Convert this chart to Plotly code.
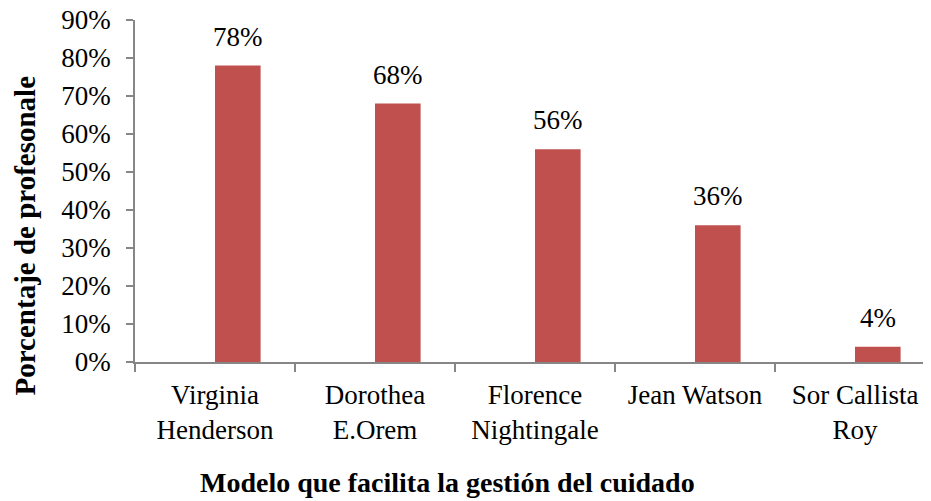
import plotly.graph_objects as go

categories = ["Virginia<br>Henderson", "Dorothea<br>E.Orem", "Florence<br>Nightingale", "Jean Watson", "Sor Callista<br>Roy"]
values = [0.78, 0.68, 0.56, 0.36, 0.04]
labels = ["78%", "68%", "56%", "36%", "4%"]
y_ticks = [0, 0.1, 0.2, 0.3, 0.4, 0.5, 0.6, 0.7, 0.8, 0.9]
y_ticktext = ["0%", "10%", "20%", "30%", "40%", "50%", "60%", "70%", "80%", "90%"]
y_title = "Porcentaje de profesonale"
x_title = "Modelo que facilita la gestión del cuidado"

BAR_W = 0.285
FONT = "Liberation Serif"
AXIS_COLOR = "#868686"

fig = go.Figure()
fig.add_trace(go.Bar(
    x=categories, y=values, width=BAR_W, offset=0,
    marker=dict(color="#C0504D", line=dict(width=0)),
    hoverinfo="skip",
))

annotations = []
for c, v, t in zip(categories, values, labels):
    annotations.append(dict(
        x=c, y=v, xref="x", yref="y", text=t, showarrow=False,
        xshift=BAR_W / 2 * 160, yshift=12, yanchor="bottom",
        font=dict(family=FONT, size=27, color="#000000"),
    ))
annotations.append(dict(
    x=-0.1375, y=0.37, xref="paper", yref="paper", text="<b>%s</b>" % y_title,
    textangle=-90, showarrow=False, xanchor="center", yanchor="middle",
    font=dict(family=FONT, size=29, color="#000000"),
))
annotations.append(dict(
    x=0.39, y=0, xref="paper", yref="paper", text="<b>%s</b>" % x_title,
    showarrow=False, xanchor="center", yanchor="top", yshift=-103,
    font=dict(family=FONT, size=28, color="#000000"),
))

fig.update_layout(
    width=931, height=501,
    margin=dict(l=127, r=4, t=12, b=147, autoexpand=False),
    paper_bgcolor="white", plot_bgcolor="white",
    showlegend=False,
    font=dict(family=FONT, size=27, color="#000000"),
    annotations=annotations,
    xaxis=dict(
        type="category", range=[-0.5, 4.5], automargin=False,
        showline=True, linecolor=AXIS_COLOR, linewidth=1.5,
        ticks="outside", tickson="boundaries", ticklen=8, tickcolor=AXIS_COLOR, tickwidth=1.5,
        showgrid=False, ticklabelstandoff=8,
        tickfont=dict(family=FONT, size=27, color="#000000"),
    ),
    yaxis=dict(
        range=[0, 0.9], tickmode="array", tickvals=y_ticks, ticktext=y_ticktext,
        automargin=False,
        showline=True, linecolor=AXIS_COLOR, linewidth=1.5,
        ticks="outside", ticklen=7, tickcolor=AXIS_COLOR, tickwidth=1.5,
        showgrid=False, zeroline=False, ticklabelstandoff=10,
        ticklabeloverflow="allow",
        tickfont=dict(family=FONT, size=27, color="#000000"),
    ),
)

fig.write_html("out.html")
